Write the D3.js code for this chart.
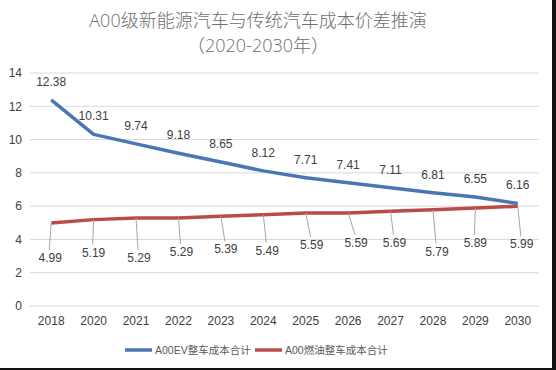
<!DOCTYPE html>
<html>
<head>
<meta charset="utf-8">
<script src="https://cdn.jsdelivr.net/npm/d3@7"></script>
<style>
  html, body { margin: 0; padding: 0; background: #fff; }
  svg { display: block; }
</style>
</head>
<body>
<div id="chart"></div>
<script>
const years = ["2018", "2020", "2021", "2022", "2023", "2024", "2025", "2026", "2027", "2028", "2029", "2030"];
const evCost = [12.38, 10.31, 9.74, 9.18, 8.65, 8.12, 7.71, 7.41, 7.11, 6.81, 6.55, 6.16];
const iceCost = [4.99, 5.19, 5.29, 5.29, 5.39, 5.49, 5.59, 5.59, 5.69, 5.79, 5.89, 5.99];
const yTicks = [0, 2, 4, 6, 8, 10, 12, 14];
const seriesNames = ["A00EV整车成本合计", "A00燃油整车成本合计"];
const titleLines = ["A00级新能源汽车与传统汽车成本价差推演", "（2020-2030年）"];

// label placement for the red series (leader lines), px offsets from the point
const redLabelDx = [-1, 0, 3, 3, 5, 4, 6, 8, 4, 4, 0, 4];
const redLabelDy = [35, 33, 40, 34, 33, 36, 32, 30, 32, 42, 35, 38];

const width = 556;
const height = 370;
const margin = { top: 73, bottom: 64, left: 30, right: 17 };

const blue = "#4a76b2";
const red = "#bb4b49";
const textColor = "#404040";
const font = "'Liberation Sans', 'Noto Sans CJK SC', sans-serif";

const svg = d3
  .select("#chart")
  .append("svg")
  .attr("width", width)
  .attr("height", height);

svg.append("rect").attr("width", width).attr("height", height).attr("fill", "#fff");

const x = d3
  .scaleBand()
  .domain(years)
  .range([margin.left, width - margin.right]);
const y = d3
  .scaleLinear()
  .domain([0, 14])
  .range([height - margin.bottom, margin.top]);
const cx = d => x(d) + x.bandwidth() / 2;

// grid
svg
  .append("g")
  .selectAll("line")
  .data(yTicks)
  .enter()
  .append("line")
  .attr("x1", margin.left)
  .attr("x2", width - margin.right)
  .attr("y1", d => y(d))
  .attr("y2", d => y(d))
  .attr("stroke", "#d9d9d9")
  .attr("stroke-width", 1);

// y axis labels
const yAxis = g =>
  g
    .attr("transform", `translate(${margin.left - 6}, 0)`)
    .call(d3.axisLeft(y).tickValues(yTicks).tickSize(0).tickPadding(2))
    .call(g => g.select(".domain").remove());
svg
  .append("g")
  .call(yAxis)
  .selectAll("text")
  .attr("fill", textColor)
  .style("font-family", font)
  .style("font-size", "12px");

// x axis labels
const xAxis = g =>
  g
    .attr("transform", `translate(0, ${height - margin.bottom + 8})`)
    .call(d3.axisBottom(x).tickSize(0).tickPadding(2))
    .call(g => g.select(".domain").remove());
svg
  .append("g")
  .call(xAxis)
  .selectAll("text")
  .attr("fill", textColor)
  .style("font-family", font)
  .style("font-size", "12px");

// lines
const line = d3
  .line()
  .x((d, i) => cx(years[i]))
  .y(d => y(d));

svg
  .append("path")
  .attr("d", line(iceCost))
  .attr("fill", "none")
  .attr("stroke", red)
  .attr("stroke-width", 3.5)
  .attr("stroke-linejoin", "round");

svg
  .append("path")
  .attr("d", line(evCost))
  .attr("fill", "none")
  .attr("stroke", blue)
  .attr("stroke-width", 3.5)
  .attr("stroke-linejoin", "round");

// blue labels above
svg
  .append("g")
  .selectAll("text")
  .data(evCost)
  .enter()
  .append("text")
  .attr("x", (d, i) => cx(years[i]))
  .attr("y", d => y(d) - 14)
  .attr("text-anchor", "middle")
  .attr("fill", textColor)
  .style("font-family", font)
  .style("font-size", "12px")
  .text(d => d.toFixed(2));

// red labels with leader lines
const redG = svg
  .append("g")
  .selectAll("g")
  .data(iceCost)
  .enter()
  .append("g");

redG
  .append("line")
  .attr("x1", (d, i) => cx(years[i]))
  .attr("y1", d => y(d))
  .attr("x2", (d, i) => cx(years[i]) + redLabelDx[i] - 1)
  .attr("y2", (d, i) => y(d) + redLabelDy[i] - 8)
  .attr("stroke", "#a6a6a6")
  .attr("stroke-width", 1);

redG
  .append("text")
  .attr("x", (d, i) => cx(years[i]) + redLabelDx[i])
  .attr("y", (d, i) => y(d) + redLabelDy[i] + 4)
  .attr("text-anchor", "middle")
  .attr("fill", textColor)
  .style("font-family", font)
  .style("font-size", "12px")
  .text(d => d.toFixed(2));

// title
svg
  .append("g")
  .selectAll("text")
  .data(titleLines)
  .enter()
  .append("text")
  .attr("x", 258)
  .attr("y", (d, i) => 27 + i * 25)
  .attr("text-anchor", "middle")
  .attr("fill", "#6e6e6e")
  .style("font-family", "'Open Sans', 'Noto Sans CJK SC', sans-serif")
  .style("font-weight", 300)
  .style("font-size", "18px")
  .text(d => d);

// legend
const legend = svg.append("g").attr("transform", "translate(125, 350)");
const legendItems = [
  { name: seriesNames[0], color: blue, x: 0 },
  { name: seriesNames[1], color: red, x: 130 }
];
const item = legend
  .selectAll("g")
  .data(legendItems)
  .enter()
  .append("g")
  .attr("transform", d => `translate(${d.x}, 0)`);
item
  .append("line")
  .attr("x1", 0)
  .attr("x2", 27)
  .attr("stroke", d => d.color)
  .attr("stroke-width", 3.5);
item
  .append("text")
  .attr("x", 30)
  .attr("y", 4)
  .attr("fill", "#595959")
  .style("font-family", font)
  .style("font-size", "10.5px")
  .text(d => d.name);

// dark frame strips at right and bottom edges
svg.append("rect").attr("x", 552).attr("y", 0).attr("width", 4).attr("height", height).attr("fill", "#111");
svg.append("rect").attr("x", 0).attr("y", 368).attr("width", width).attr("height", 2).attr("fill", "#111");
</script>
</body>
</html>
